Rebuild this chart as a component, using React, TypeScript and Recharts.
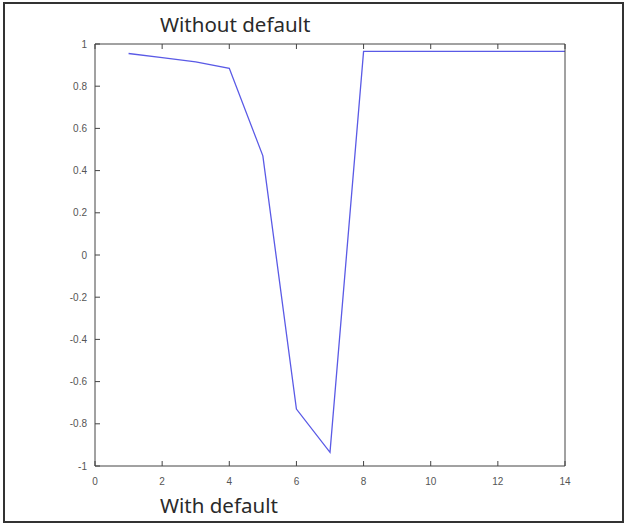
import * as React from 'react'
import { LineChart, Line, XAxis, YAxis } from 'recharts'

const steps = [1, 2, 3, 4, 5, 6, 7, 8, 9, 10, 11, 12, 13, 14]
const values = [0.955, 0.935, 0.915, 0.885, 0.47, -0.73, -0.935, 0.965, 0.965, 0.965, 0.965, 0.965, 0.965, 0.965]
const xTicks = [0, 2, 4, 6, 8, 10, 12, 14]
const yTicks = [-1, -0.8, -0.6, -0.4, -0.2, 0, 0.2, 0.4, 0.6, 0.8, 1]
const topTitle = 'Without default'
const bottomTitle = 'With default'

const data = steps.map((s, i) => ({ step: s, value: values[i] }))

const AXIS = '#444'
const fmt = (v: number) => String(Number(v.toFixed(1)))

const LeftTick = (p: any) => (
  <g>
    <line x1={p.x + 8} x2={p.x + 13} y1={p.y} y2={p.y} stroke={AXIS} />
    <text x={p.x} y={p.y} dy={3.5} textAnchor="end" fontSize={10} fill="#555" fontFamily="Liberation Sans, Arial, sans-serif">
      {fmt(p.payload.value)}
    </text>
  </g>
)

const BottomTick = (p: any) => (
  <g>
    <line x1={p.x} x2={p.x} y1={p.y - 8} y2={p.y - 13} stroke={AXIS} />
    <text x={p.x} y={p.y} dy={11} textAnchor="middle" fontSize={10} fill="#555" fontFamily="Liberation Sans, Arial, sans-serif">
      {p.payload.value}
    </text>
  </g>
)

const RightTick = (p: any) => <line x1={p.x} x2={p.x - 5} y1={p.y} y2={p.y} stroke={AXIS} />
const TopTick = (p: any) => <line x1={p.x} x2={p.x} y1={p.y} y2={p.y + 5} stroke={AXIS} />

const titleStyle: React.CSSProperties = {
  position: 'absolute',
  left: 160,
  fontSize: 20.5,
  color: '#2a2a2a',
  fontFamily: 'Noto Sans, sans-serif',
  lineHeight: 1,
  whiteSpace: 'nowrap',
}

export default function App() {
  return (
    <div style={{ position: 'absolute', left: 0, top: 0, width: 627, height: 524, background: '#fff' }}>
      <div style={{ position: 'absolute', left: 3, top: 2, width: 617, height: 517, border: '2px solid #333' }} />
      <LineChart width={627} height={524} data={data} margin={{ top: 0, right: 0, bottom: 0, left: 0 }}>
        <XAxis
          xAxisId="b"
          dataKey="step"
          type="number"
          domain={[0, 14]}
          ticks={xTicks}
          height={58}
          stroke={AXIS}
          tickSize={0}
          tickMargin={8}
          tick={<BottomTick />}
          tickLine={false}
        />
        <XAxis
          xAxisId="t"
          orientation="top"
          dataKey="step"
          type="number"
          domain={[0, 14]}
          ticks={xTicks}
          height={44}
          stroke={AXIS}
          tickSize={0}
          tickMargin={0}
          tick={<TopTick />}
          tickLine={false}
        />
        <YAxis
          yAxisId="l"
          type="number"
          domain={[-1, 1]}
          ticks={yTicks}
          width={95}
          stroke={AXIS}
          tickSize={0}
          tickMargin={8}
          tick={<LeftTick />}
          tickLine={false}
        />
        <YAxis
          yAxisId="r"
          orientation="right"
          type="number"
          domain={[-1, 1]}
          ticks={yTicks}
          width={62}
          stroke={AXIS}
          tickSize={0}
          tickMargin={0}
          tick={<RightTick />}
          tickLine={false}
        />
        <Line
          xAxisId="b"
          yAxisId="l"
          dataKey="value"
          stroke="#5a5ae6"
          strokeWidth={1.3}
          dot={false}
          isAnimationActive={false}
        />
      </LineChart>
      <div style={{ ...titleStyle, top: 14 }}>{topTitle}</div>
      <div style={{ ...titleStyle, top: 495 }}>{bottomTitle}</div>
    </div>
  )
}
